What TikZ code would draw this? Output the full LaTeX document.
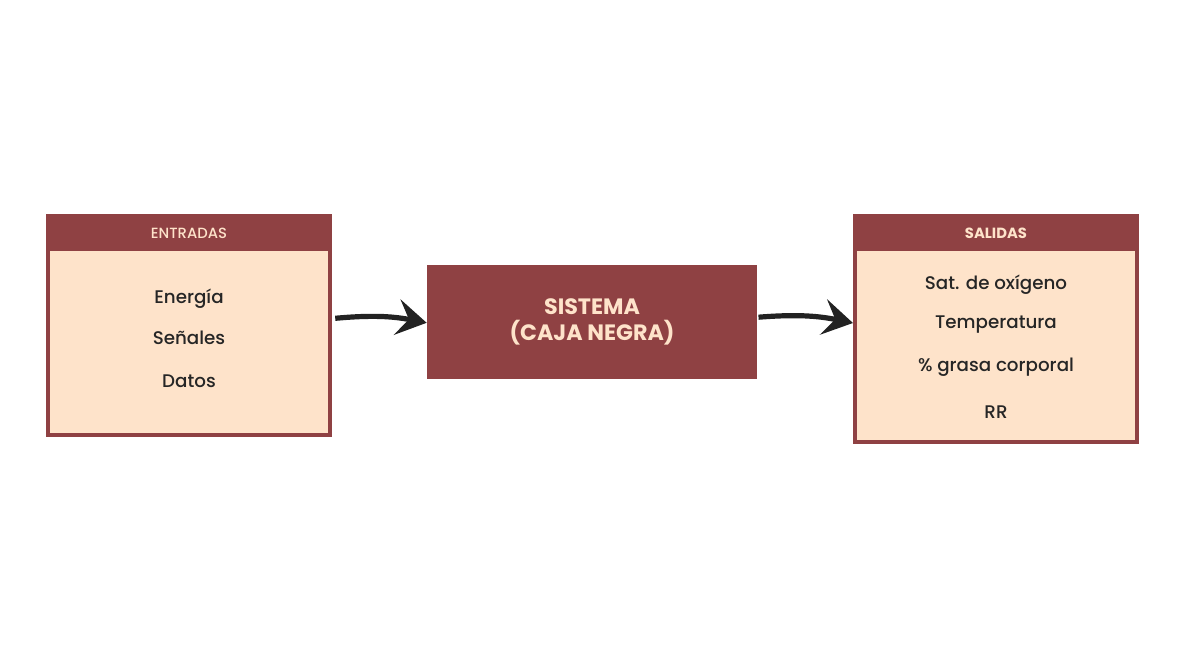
\documentclass[tikz,border=0pt]{standalone}
\usepackage{xcolor}
\usepackage{fontspec}
\setmainfont{Poppins}
\newfontfamily\medfont{Poppins Medium}
\usepackage{tikz}
\usetikzlibrary{arrows.meta}
\definecolor{boxred}{HTML}{8F4143}
\definecolor{boxfill}{HTML}{FEE3CA}
\definecolor{arrowblack}{HTML}{222222}
\tikzset{
  panel/.style={draw=boxred, line width=0.1cm, fill=boxfill, rectangle, minimum width=7.05cm, inner sep=0pt},
  header/.style={fill=boxred, rectangle, minimum width=7.15cm, minimum height=0.875cm, inner sep=0pt, text=boxfill, font=\medfont\fontsize{10.5pt}{12pt}\selectfont},
  item/.style={text=black!85, font=\medfont\fontsize{13pt}{15pt}\selectfont},
  core/.style={fill=boxred, rectangle, minimum width=8.25cm, minimum height=2.85cm, text=boxfill, align=center, font=\bfseries\fontsize{15.8pt}{18.5pt}\selectfont},
  flow/.style={draw=arrowblack, line width=0.13cm, -{Stealth[length=0.75cm, width=0.9cm, inset=0.3cm]}},
}

\begin{document}
\begin{tikzpicture}[x=0.025cm, y=-0.025cm]%
\useasboundingbox (0,0) rectangle (1185,645);%
% entradas
\node[panel, minimum height=5.475cm] (entradas) at (189, 325.5) {};%
\node[header] (entradashead) at (189, 233) {ENTRADAS};%
\node[item] (ent1) at (189, 299) {Energía};%
\node[item] (ent2) at (189, 338) {Señales};%
\node[item] (ent3) at (189, 381) {Datos};%
% sistema
\node[core] (sistema) at (592, 322) {SISTEMA\\(CAJA NEGRA)};%
% salidas
\node[panel, minimum height=5.65cm] (salidas) at (996, 329) {};%
\node[header, font=\bfseries\fontsize{10.5pt}{12pt}\selectfont] (salidashead) at (996, 233) {SALIDAS};%
\node[item] (sal1) at (996, 285) {Sat. de oxígeno};%
\node[item] (sal2) at (996, 325) {Temperatura};%
\node[item] (sal3) at (996, 367) {\% grasa corporal};%
\node[item] (sal4) at (996, 412) {RR};%
% flechas
\draw[flow] ([xshift=0.08cm, yshift=0.18cm]entradas.east) to[bend left=8] ([yshift=-0.02cm]sistema.west);%
\draw[flow] ([xshift=0.03cm, yshift=0.12cm]sistema.east) to[bend left=8] ([yshift=0.15cm]salidas.west);%
\end{tikzpicture}
\end{document}
